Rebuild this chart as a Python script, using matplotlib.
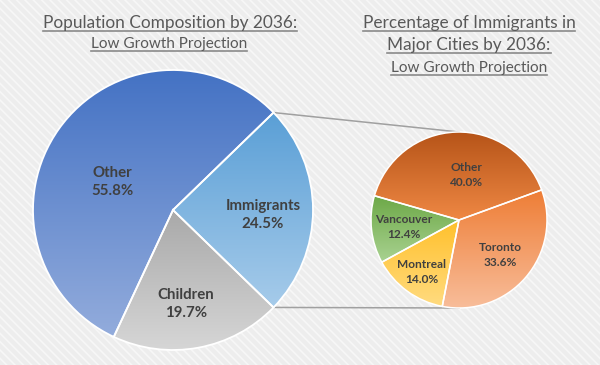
import matplotlib
matplotlib.use("Agg")
import matplotlib.pyplot as plt
import numpy as np
from matplotlib.colors import LinearSegmentedColormap
from matplotlib.patches import Rectangle

# main pie data
main_labels = ["Immigrants", "Other", "Children"]
main_values = [24.5, 55.8, 19.7]
main_top = ["#5a9fd6", "#4472c4", "#a9a9a9"]
main_bottom = ["#a6cbea", "#93acdc", "#d6d6d6"]

# city breakdown of immigrants
city_labels = ["Toronto", "Montreal", "Vancouver", "Other"]
city_values = [33.6, 14.0, 12.4, 40.0]
city_top = ["#ee7d35", "#ffc02a", "#6ca846", "#b65418"]
city_bottom = ["#f8bd9a", "#ffdb80", "#a9d291", "#ef8844"]

H = 365
plt.rcParams['font.family'] = ['Lato', 'DejaVu Sans']

fig = plt.figure(figsize=(6, 3.65), dpi=100)
fig.patch.set_facecolor("#ececec")
ax = fig.add_axes([0, 0, 1, 1])
ax.set_xlim(0, 600)
ax.set_ylim(0, H)
ax.axis("off")

plt.rcParams['hatch.linewidth'] = 1.2
ax.add_patch(Rectangle((0, 0), 600, H, facecolor="#ededed", edgecolor="#f7f7f7",
                       hatch="\\\\\\\\", linewidth=0, zorder=0))


def gradient_fill(wedges, tops, bottoms):
    for w, c1, c2 in zip(wedges, tops, bottoms):
        ext = w.get_path().get_extents()
        cmap = LinearSegmentedColormap.from_list("g", [c2, c1])
        grad = np.linspace(0, 1, 256).reshape(-1, 1)
        im = ax.imshow(grad, cmap=cmap, extent=[ext.x0, ext.x1, ext.y0, ext.y1],
                       origin="lower", aspect="auto", zorder=1, interpolation="bilinear")
        im.set_clip_path(w)
        w.set_facecolor("none")
        w.set_zorder(2)


# connector lines (behind pies)
main_c = (173, H - 210)
main_r = 140
city_c = (459, H - 220)
city_r = 88
half = np.deg2rad(main_values[0] / 100 * 180)
ax.plot([main_c[0] + main_r * np.cos(half), city_c[0]],
        [main_c[1] + main_r * np.sin(half), city_c[1] + city_r],
        color="#a0a0a0", lw=1.1, zorder=0.5)
ax.plot([main_c[0] + main_r * np.cos(half), city_c[0]],
        [main_c[1] - main_r * np.sin(half), city_c[1] - city_r],
        color="#a0a0a0", lw=1.1, zorder=0.5)

wedges, _ = ax.pie(main_values, center=main_c, radius=main_r,
                   startangle=-main_values[0] / 100 * 180, counterclock=True,
                   wedgeprops=dict(edgecolor="white", linewidth=1.3))
gradient_fill(wedges, main_top, main_bottom)

wedges2, _ = ax.pie(city_values, center=city_c, radius=city_r,
                    startangle=20, counterclock=False,
                    wedgeprops=dict(edgecolor="white", linewidth=1.1))
gradient_fill(wedges2, city_top, city_bottom)

ax.set_xlim(0, 600)
ax.set_ylim(0, H)
ax.set_aspect("auto")

lab = dict(ha="center", va="center", fontsize=10.8, fontweight="bold",
           color="#404040", linespacing=1.3, zorder=5)
main_pos = [(263, 215), (112, 182), (186, 304)]
for name, v, (x, y) in zip(main_labels, main_values, main_pos):
    ax.text(x, H - y, f"{name}\n{v:.1f}%", **lab)
city_pos = [(500, 255), (422, 272), (404, 227), (466, 175)]
for name, v, (x, y) in zip(city_labels, city_values, city_pos):
    ax.text(x, H - y, f"{name}\n{v:.1f}%", **dict(lab, fontsize=8.6, linespacing=1.35))

# titles with underline (baseline y, underline y)
titles = [
    ("Population Composition by 2036:", 170, 28, 31, 12.4),
    ("Low Growth Projection", 169, 48, 51, 11),
    ("Percentage of Immigrants in", 469, 28, 31, 12.4),
    ("Major Cities by 2036:", 469, 50, 53, 12.4),
    ("Low Growth Projection", 469, 72, 75, 11),
]
texts = []
for s, x, y, uy, fs in titles:
    t = ax.text(x, H - y, s, ha="center", va="baseline", fontsize=fs,
                color="#595959", zorder=5)
    texts.append((t, uy))

fig.canvas.draw()
r = fig.canvas.get_renderer()
for t, uy in texts:
    bb = t.get_window_extent(r)
    (x0, _), (x1, _) = ax.transData.inverted().transform([[bb.x0, bb.y0], [bb.x1, bb.y1]])
    ax.plot([x0, x1], [H - uy, H - uy], color="#8a8a8a", lw=1.2, zorder=4)

fig.savefig("out.png", dpi=100, facecolor=fig.get_facecolor())
